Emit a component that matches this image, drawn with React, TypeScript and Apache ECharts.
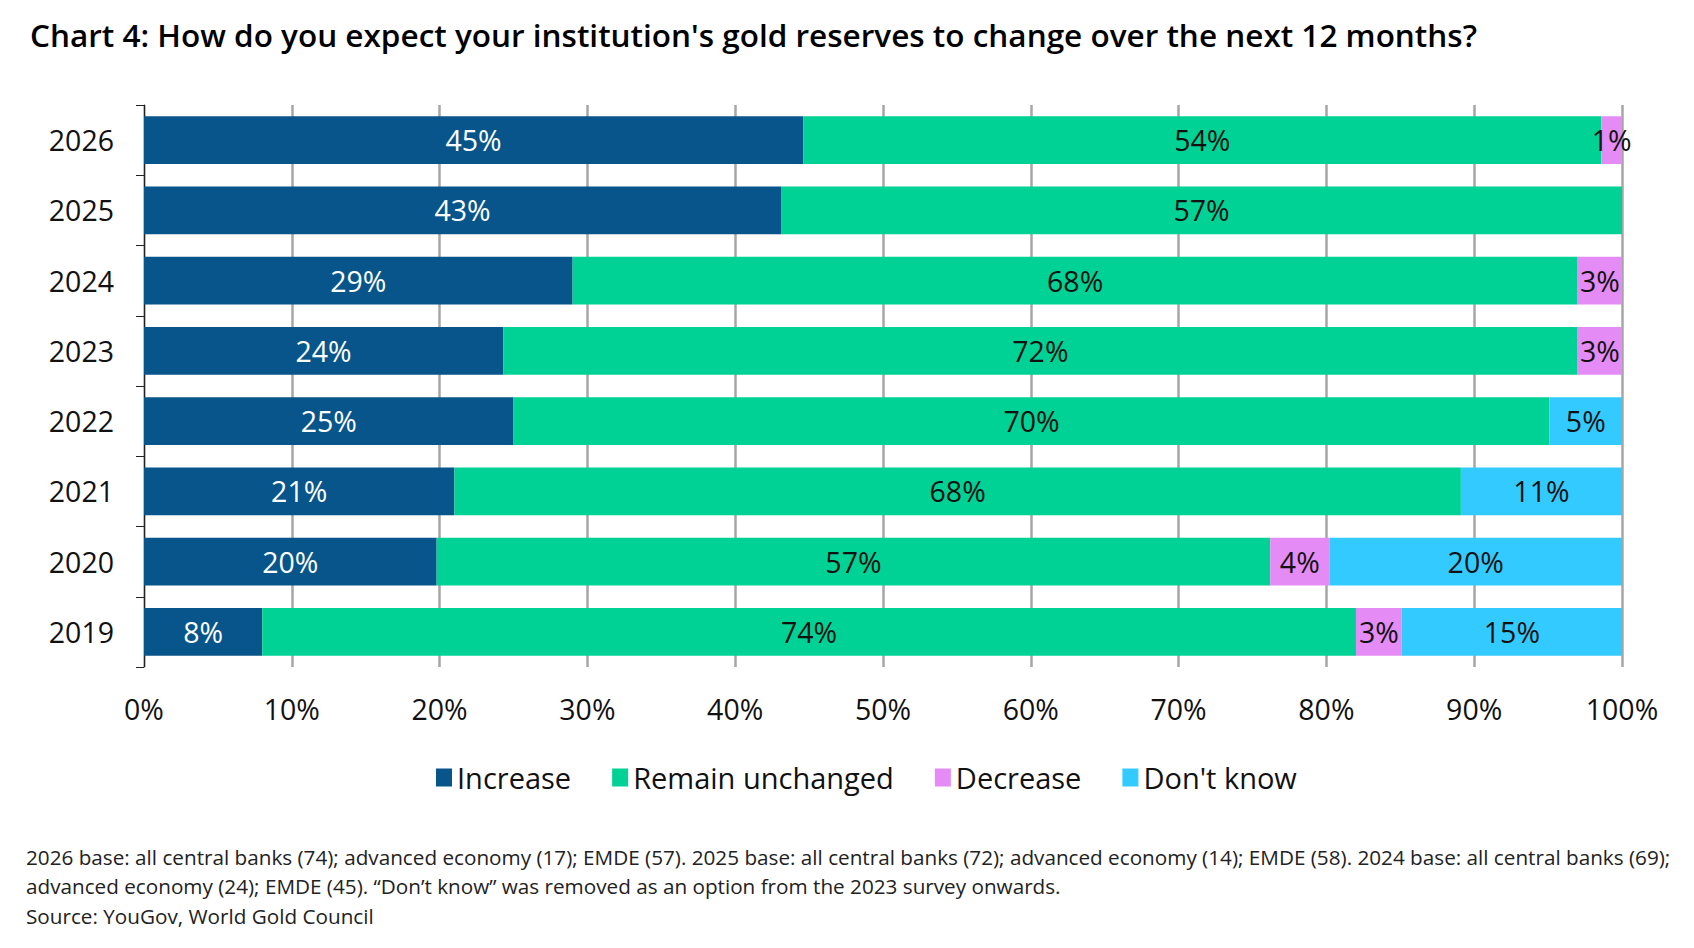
import React, { useEffect, useRef } from "react";
import * as echarts from "echarts";

const years = ["2019", "2020", "2021", "2022", "2023", "2024", "2025", "2026"];
const seriesNames = ["Increase", "Remain unchanged", "Decrease", "Don't know"];
// bar lengths (percent)
const increase = [8.0, 19.8, 21.0, 25.0, 24.3, 29.0, 43.1, 44.6];
const remain = [74.0, 56.4, 68.1, 70.1, 72.7, 68.0, 56.9, 54.0];
const decrease = [3.1, 4.0, 0, 0, 3.0, 3.0, 0, 1.4];
const dontKnow = [14.9, 19.8, 10.9, 4.9, 0, 0, 0, 0];
// printed labels
const increaseLbl = [8, 20, 21, 25, 24, 29, 43, 45];
const remainLbl = [74, 57, 68, 70, 72, 68, 57, 54];
const decreaseLbl = [3, 4, null, null, 3, 3, null, 1];
const dontKnowLbl = [15, 20, 11, 5, null, null, null, null];
const xTicks = ["0%", "10%", "20%", "30%", "40%", "50%", "60%", "70%", "80%", "90%", "100%"];
const colors = ["#07558A", "#00D295", "#E58BF5", "#33CBFF"];

const titleText = "Chart 4: How do you expect your institution's gold reserves to change over the next 12 months?";
const noteLines = [
  "2026 base: all central banks (74); advanced economy (17); EMDE (57). 2025 base: all central banks (72); advanced economy (14); EMDE (58). 2024 base: all central banks (69);",
  "advanced economy (24); EMDE (45). \u201CDon\u2019t know\u201D was removed as an option from the 2023 survey onwards.",
  "Source: YouGov, World Gold Council",
];

const FONT = "'Open Sans', 'Noto Sans', sans-serif";

export default function App() {
  const ref = useRef<HTMLDivElement>(null);
  useEffect(() => {
    document.body.style.margin = "0";
    const chart = echarts.init(ref.current!, null, { renderer: "svg" });
    const vals = [increase, remain, decrease, dontKnow];
    const lbls = [increaseLbl, remainLbl, decreaseLbl, dontKnowLbl];
    const series = seriesNames.map((name, i) => ({
      name,
      type: "bar",
      stack: "total",
      barCategoryGap: "32%",
      itemStyle: { color: colors[i] },
      data: vals[i].map((v, j) => ({ value: v, lbl: lbls[i][j] })),
      label: {
        show: true,
        position: "inside",
        fontFamily: FONT,
        fontSize: 28.5,
        color: i === 0 ? "#ffffff" : "#111111",
        formatter: (p: any) => (p.data.lbl == null ? "" : p.data.lbl + "%"),
      },
    }));
    chart.setOption({
      animation: false,
      textStyle: { fontFamily: FONT },
      title: {
        text: titleText,
        left: 25,
        top: 13,
        textStyle: { fontFamily: FONT, fontSize: 31.5, fontWeight: 600, color: "#000" },
      },
      legend: {
        data: seriesNames,
        left: 431,
        top: 758,
        icon: "rect",
        itemWidth: 16,
        itemHeight: 18,
        itemGap: 41,
        textStyle: { fontFamily: FONT, fontSize: 29, color: "#111" },
      },
      grid: { left: 144, right: 72, top: 105, bottom: 281, containLabel: false },
      xAxis: {
        type: "value",
        min: 0,
        max: 100,
        interval: 10,
        axisLine: { show: false },
        axisTick: { show: false },
        splitLine: { show: true, lineStyle: { color: "#a6a6a6", width: 2.5 } },
        axisLabel: {
          margin: 27,
          fontFamily: FONT,
          fontSize: 28.5,
          color: "#111",
          formatter: (v: number) => xTicks[Math.round(v / 10)],
        },
      },
      yAxis: {
        type: "category",
        data: years,
        axisLine: { show: true, lineStyle: { color: "#222", width: 1 } },
        axisTick: { show: true, length: 8, lineStyle: { color: "#222" } },
        axisLabel: { margin: 30, fontFamily: FONT, fontSize: 28.5, color: "#111" },
      },
      graphic: noteLines.map((t, i) => ({
        type: "text",
        left: 26,
        top: 846 + i * 29.5,
        style: { text: t, fontFamily: FONT, fontSize: 20.7, fill: "#222" },
      })),
      series,
    });
    return () => chart.dispose();
  }, []);
  return <div ref={ref} style={{ width: 1694, height: 948 }} />;
}
